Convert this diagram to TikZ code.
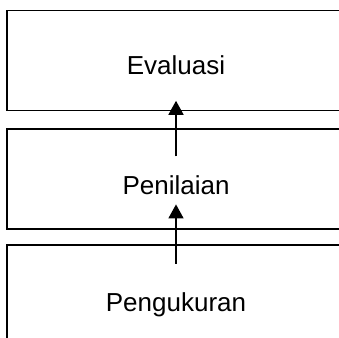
\documentclass[tikz,border=0pt]{standalone}
\usepackage{fontspec}
\setmainfont{Liberation Sans}
\usetikzlibrary{positioning}
\usetikzlibrary{calc}
\usetikzlibrary{arrows.meta}

\begin{document}
\begin{tikzpicture}[x=1pt,y=-1pt,
		stage/.style={draw, line width=1.6pt, minimum width=338pt, minimum height=100pt, inner sep=0pt},
		stagetext/.style={font=\fontsize{26}{30}\selectfont, inner sep=0pt, anchor=base},
		flow/.style={line width=1.6pt, -{Triangle[width=15pt,length=14pt]}}]
		\useasboundingbox (0,0) rectangle (339,337);
		\node[stage] (evalbox) at (176,60.5) {};
		\node[stage, below = 17pt of evalbox] (nilaibox) {};
		\node[stage, below = 14.5pt of nilaibox] (ukurbox) {};
		\node[stagetext] (evaluasi) at ([yshift=-13.5pt]evalbox.center) {Evaluasi};
		\node[stagetext] (penilaian) at ([yshift=-15.8pt]nilaibox.center) {Penilaian};
		\node[stagetext] (pengukuran) at ([yshift=-16pt]ukurbox.center) {Pengukuran};
		\draw[flow] ([yshift=19.5pt]penilaian.north) -- ([yshift=10.5pt]evalbox.south);
		\draw[flow] ([yshift=28.5pt]pengukuran.north) -- ([yshift=25.5pt]nilaibox.south);
	\end{tikzpicture}
\end{document}
